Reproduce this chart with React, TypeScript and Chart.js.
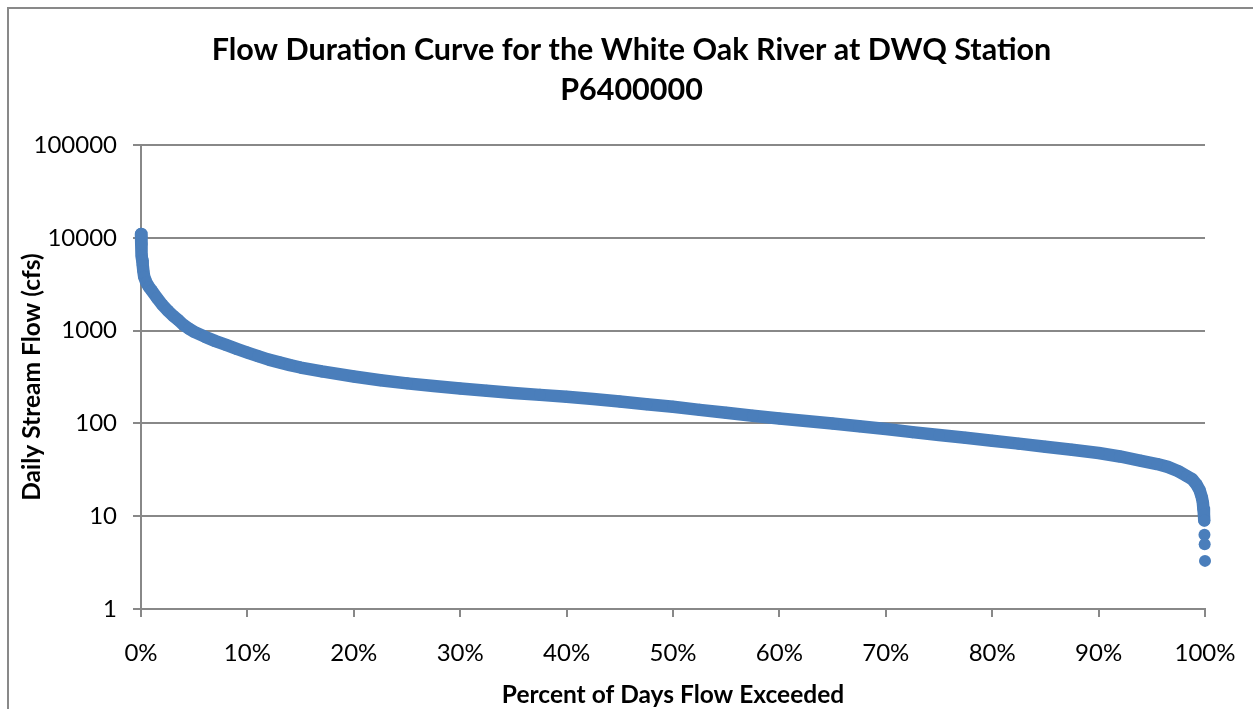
import React, { useEffect, useRef } from "react";
import { Chart, registerables } from "chart.js";

Chart.register(...registerables);

const chartTitle = ["Flow Duration Curve for the White Oak River at DWQ Station", "P6400000"];
const xAxisTitle = "Percent of Days Flow Exceeded";
const yAxisTitle = "Daily Stream Flow (cfs)";
const yTickValues = [1, 10, 100, 1000, 10000, 100000];
const xTickStep = 10;

const percentExceeded = [
  0, 0.02, 0.05, 0.08, 0.12, 0.16, 0.22, 0.3, 0.5, 0.75,
  1, 1.5, 2, 2.5, 3, 3.5, 4, 4.5, 5,
  6, 7, 8, 9, 10, 11, 12, 13, 14, 15,
  17, 20, 22.5, 25, 27.5, 30, 32.5, 35, 37.5, 40,
  42.5, 45, 47.5, 50, 52.5, 55, 57.5, 60, 62.5, 65,
  67.5, 70, 72.5, 75, 77.5, 80, 82.5, 85, 87.5, 90,
  92, 94, 95.5, 96.5, 97.5, 98.3, 98.8, 99.2, 99.5, 99.7,
  99.8, 99.85, 99.9, 99.93, 99.95, 99.97, 100,
];
const dailyFlowCfs = [
  11000, 10300, 8600, 6400, 5700, 5100, 4400, 3800, 3300, 2950,
  2700, 2250, 1900, 1650, 1450, 1300, 1150, 1050, 970,
  860, 770, 700, 635, 580, 530, 487, 455, 425, 400,
  363, 320, 292, 270, 253, 238, 225, 213, 203, 194,
  183, 172, 161, 151, 140, 130, 121, 113, 106, 100,
  93, 87, 80.5, 75, 70, 65, 60.5, 56, 52, 48,
  44, 39.5, 36.5, 34, 30.5, 27, 25, 22, 19, 16,
  14, 12, 10.5, 9, 6.3, 5.0, 3.3,
];
// the last few low-flow days show as separate dots
const separateDotsFrom = 72;

const BLUE = "#4A7EBB";
const GRAY = "#888888";
const FONT = "Lato, 'Open Sans', sans-serif";

export default function App() {
  const canvasRef = useRef<HTMLCanvasElement | null>(null);

  useEffect(() => {
    const canvas = canvasRef.current;
    if (!canvas) return;
    const points = percentExceeded.map((x, i) => ({ x, y: dailyFlowCfs[i] }));
    const chart = new Chart(canvas, {
      type: "scatter",
      data: {
        datasets: [
          {
            label: "Flow",
            data: points,
            showLine: true,
            borderColor: BLUE,
            backgroundColor: BLUE,
            borderWidth: 12.5,
            borderCapStyle: "round",
            borderJoinStyle: "round",
            pointRadius: 6,
            pointBorderWidth: 0,
            pointBackgroundColor: BLUE,
            clip: false,
            segment: {
              borderColor: (ctx: any) =>
                ctx.p0DataIndex >= separateDotsFrom ? "rgba(0,0,0,0)" : BLUE,
            },
          } as any,
        ],
      },
      options: {
        responsive: false,
        animation: false,
        devicePixelRatio: 1,
        layout: { padding: { left: 0, right: 0, top: 0, bottom: 0 } },
        plugins: {
          legend: { display: false },
          tooltip: { enabled: false },
          title: {
            display: true,
            text: chartTitle,
            color: "#000000",
            font: { family: FONT, size: 30.5, weight: "bold", lineHeight: 40 / 30.5 },
            padding: { top: 21, bottom: 35 },
          },
        },
        scales: {
          x: {
            type: "linear",
            min: 0,
            max: 100,
            ticks: {
              stepSize: xTickStep,
              color: "#000000",
              font: { family: FONT, size: 24 },
              padding: 22,
              maxRotation: 0,
              callback: (v: any) => `${v}%`,
            },
            grid: {
              display: true,
              drawOnChartArea: false,
              drawTicks: true,
              tickLength: 8,
              color: GRAY,
              lineWidth: 2,
            },
            border: { display: true, color: GRAY, width: 2 },
            title: {
              display: true,
              text: xAxisTitle,
              color: "#000000",
              font: { family: FONT, size: 24.5, weight: "bold", lineHeight: 1.2 },
              padding: { top: 0, bottom: 0 },
            },
            afterFit: (s: any) => {
              s.height = 101;
              s.paddingLeft = 0;
              s.paddingRight = 49;
            },
          },
          y: {
            type: "logarithmic",
            min: 1,
            max: 100000,
            afterBuildTicks: (s: any) => {
              s.ticks = yTickValues.map((value) => ({ value }));
            },
            ticks: {
              color: "#000000",
              font: { family: FONT, size: 24 },
              padding: 16,
              autoSkip: false,
              callback: (v: any) => String(v),
            },
            grid: {
              display: true,
              drawOnChartArea: true,
              drawTicks: true,
              tickLength: 8,
              color: GRAY,
              lineWidth: 2,
            },
            border: { display: true, color: GRAY, width: 2 },
            title: {
              display: true,
              text: yAxisTitle,
              color: "#000000",
              font: { family: FONT, size: 24.5, weight: "bold", lineHeight: 1.2 },
              padding: { top: 8, bottom: 4 },
            },
            afterFit: (s: any) => {
              s.width = 132;
            },
          },
        },
      },
    });
    return () => chart.destroy();
  }, []);

  return (
    <div
      style={{
        position: "fixed",
        left: 7,
        top: 7,
        width: 1260,
        height: 720,
        borderLeft: "2px solid #898989",
        borderTop: "2px solid #898989",
        background: "#ffffff",
      }}
    >
      <canvas ref={canvasRef} width={1245} height={701} style={{ display: "block" }} />
    </div>
  );
}
